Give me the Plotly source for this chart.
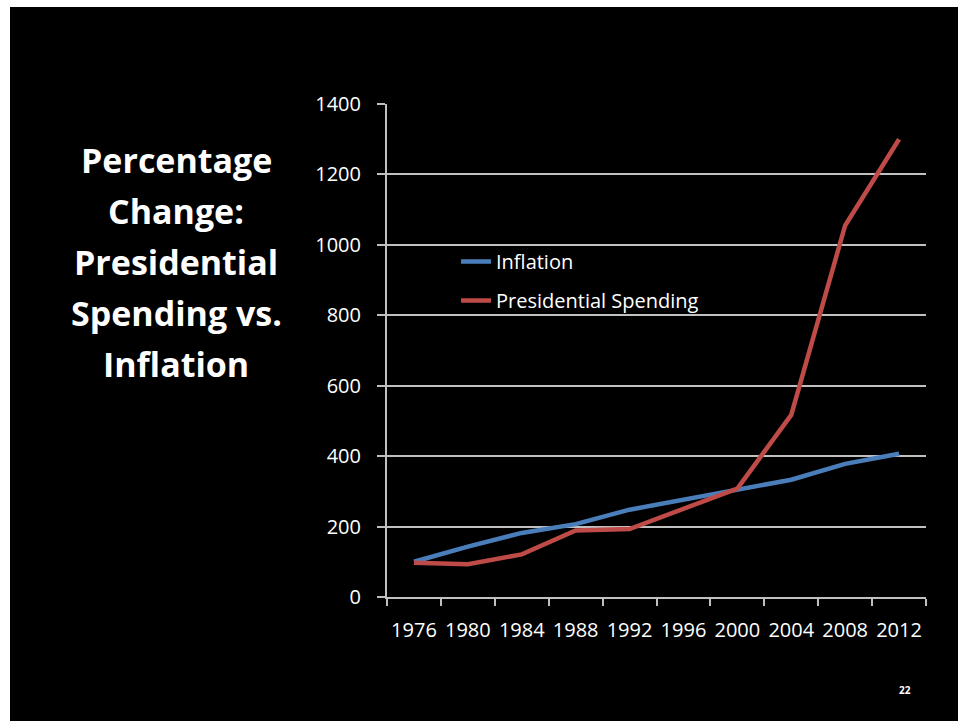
import plotly.graph_objects as go

# Election years on the category axis
years = ["1976", "1980", "1984", "1988", "1992", "1996", "2000", "2004", "2008", "2012"]

# Cumulative percentage change for each series
inflation = [100, 143, 182, 207, 248, 276, 302, 333, 378, 407]
presidential_spending = [97, 93, 121, 189, 193, 250, 308, 517, 1055, 1300]

title_lines = ["Percentage", "Change:", "Presidential", "Spending vs.", "Inflation"]
y_ticks = [0, 200, 400, 600, 800, 1000, 1200, 1400]

W, H = 958, 721
FONT = "Open Sans"
GRID = "#c0c0c0"

def px_x(x):
    return x / W

def px_y(y):
    return 1 - y / H

fig = go.Figure()
fig.add_trace(go.Scatter(
    x=years, y=inflation, name="Inflation", mode="lines",
    line=dict(color="#4a7ebb", width=4.5), legendgroup="a",
))
fig.add_trace(go.Scatter(
    x=years, y=presidential_spending, name="Presidential Spending", mode="lines",
    line=dict(color="#be4b48", width=4.5), legendgroup="b",
))

# Slide title, one annotation per line
for i, line in enumerate(title_lines):
    fig.add_annotation(
        text=line, x=px_x(176), y=px_y(160 + i * 51), xref="paper", yref="paper",
        xanchor="center", yanchor="middle", showarrow=False,
        font=dict(family=FONT, size=34, color="white", weight="bold"),
    )

# Slide number
fig.add_annotation(
    text="22", x=px_x(905), y=px_y(690), xref="paper", yref="paper",
    xanchor="center", yanchor="middle", showarrow=False,
    font=dict(family=FONT, size=10, color="white", weight="bold"),
)

fig.update_layout(
    width=W, height=H,
    autosize=False,
    margin=dict(l=0, r=0, t=0, b=0, pad=0),
    paper_bgcolor="white",
    plot_bgcolor="rgba(0,0,0,0)",
    font=dict(family=FONT, size=20, color="white"),
    shapes=[dict(
        type="rect", xref="paper", yref="paper", layer="below",
        x0=px_x(10), x1=1.0, y0=0.0, y1=px_y(7),
        fillcolor="black", line=dict(width=0),
    )],
    xaxis=dict(
        domain=[px_x(387), px_x(926)],
        type="category", range=[-0.5, 9.5],
        showgrid=False, zeroline=False, automargin=False,
        showline=True, linecolor=GRID, linewidth=2,
        ticks="outside", tickson="boundaries", ticklen=7, tickwidth=2, tickcolor=GRID,
        tickangle=0, ticklabelstandoff=14,
        tickfont=dict(family=FONT, size=20, color="white"),
    ),
    yaxis=dict(
        domain=[px_y(597), px_y(104)],
        range=[0, 1400], tickvals=y_ticks,
        showgrid=True, gridcolor=GRID, gridwidth=2,
        zeroline=False, automargin=False,
        showline=True, linecolor=GRID, linewidth=2,
        ticks="outside", ticklen=8, tickwidth=2, tickcolor=GRID,
        ticklabelstandoff=12,
        tickfont=dict(family=FONT, size=20, color="white"),
    ),
    showlegend=True,
    legend=dict(
        x=px_x(456), y=px_y(242), xanchor="left", yanchor="top",
        bgcolor="rgba(0,0,0,0)", font=dict(family=FONT, size=20, color="white"),
        tracegroupgap=10, itemwidth=30,
    ),
)

fig.write_html("out.html")
